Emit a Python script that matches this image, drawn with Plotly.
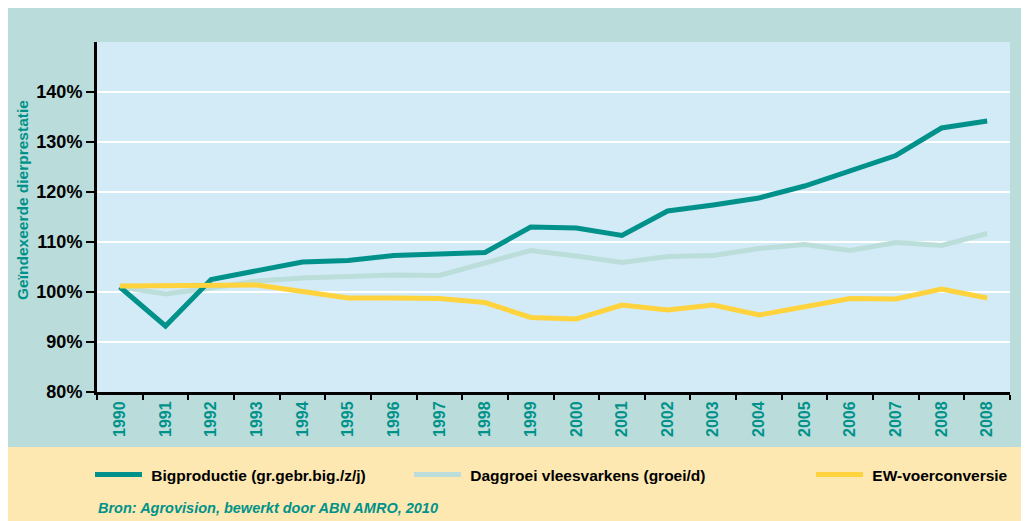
import plotly.graph_objects as go

years = ["1990", "1991", "1992", "1993", "1994", "1995", "1996", "1997", "1998", "1999",
         "2000", "2001", "2002", "2003", "2004", "2005", "2006", "2007", "2008", "2008"]
x_idx = list(range(len(years)))

bigproductie = [101.0, 93.2, 102.5, 104.3, 106.0, 106.3, 107.3, 107.6, 107.9, 113.0,
                112.8, 111.3, 116.2, 117.4, 118.8, 121.2, 124.3, 127.3, 132.8, 134.2]
daggroei = [101.0, 99.6, 100.8, 102.2, 102.8, 103.1, 103.4, 103.3, 105.7, 108.3,
            107.2, 105.9, 107.1, 107.3, 108.7, 109.5, 108.3, 109.9, 109.3, 111.7]
ew_voer = [101.2, 101.2, 101.2, 101.4, 100.1, 98.8, 98.8, 98.7, 97.9, 94.9,
           94.6, 97.4, 96.4, 97.4, 95.4, 97.0, 98.7, 98.6, 100.6, 98.8]

y_ticks = [80, 90, 100, 110, 120, 130, 140]
y_ticktext = [f"{v}%" for v in y_ticks]

names = ["Bigproductie (gr.gebr.big./z/j)", "Daggroei vleesvarkens (groei/d)", "EW-voerconversie"]

C_DARK = "#00928A"
C_LIGHT = "#BCDEDA"
C_YELLOW = "#FFD33D"
C_FRAME = "#BADDDB"
C_PLOT = "#D3EBF7"
C_BOTTOM = "#FDE8B1"

# the page body adds an 8px margin; the figure is sized to fill the rest
OFF = 8
W, H = 1029 - OFF, 521 - OFF
L, R, T, B = 97 - OFF, 19, 42 - OFF, 129
pw, ph = W - L - R, H - T - B


def px_x(p):
    """reference-image pixel x -> paper coordinate"""
    return (p - OFF - L) / pw


def px_y(p):
    """reference-image pixel y -> paper coordinate"""
    return (H - B - (p - OFF)) / ph


FONT = "Liberation Sans"
NB = "\u00a0"

fig = go.Figure()
fig.add_trace(go.Scatter(x=x_idx, y=daggroei, mode="lines", name=NB + names[1],
                         line=dict(color=C_LIGHT, width=5), legend="legend2"))
fig.add_trace(go.Scatter(x=x_idx, y=bigproductie, mode="lines", name=NB + names[0],
                         line=dict(color=C_DARK, width=5), legend="legend"))
fig.add_trace(go.Scatter(x=x_idx, y=ew_voer, mode="lines", name=NB + names[2],
                         line=dict(color=C_YELLOW, width=5), legend="legend3"))

legend_common = dict(
    orientation="h", yanchor="middle", y=px_y(475), xanchor="left",
    bgcolor="rgba(0,0,0,0)", itemwidth=47,
    font=dict(family=FONT, size=15.5, color="black", weight="bold"),
)

fig.update_layout(
    width=W, height=H,
    margin=dict(l=L, r=R, t=T, b=B, pad=0),
    paper_bgcolor=C_FRAME,
    plot_bgcolor=C_PLOT,
    showlegend=True,
    legend=dict(x=px_x(90), **legend_common),
    legend2=dict(x=px_x(409), **legend_common),
    legend3=dict(x=px_x(811), **legend_common),
    xaxis=dict(
        range=[-0.5, len(years) - 0.5],
        tickmode="array", tickvals=x_idx, ticktext=years,
        tickangle=-90, ticks="",
        tickfont=dict(family=FONT, size=16, color=C_DARK, weight="bold"),
        showgrid=False, zeroline=False,
        showline=True, linecolor="black", linewidth=3,
        minor=dict(tickmode="linear", tick0=-0.5, dtick=1, ticks="outside",
                   ticklen=5, tickwidth=1.5, tickcolor="black", showgrid=False),
    ),
    yaxis=dict(
        range=[80, 150],
        tickmode="array", tickvals=y_ticks, ticktext=y_ticktext,
        ticks="outside", ticklen=8, tickwidth=2, tickcolor="black",
        tickfont=dict(family=FONT, size=18, color="black", weight="bold"),
        showgrid=True, gridcolor="white", gridwidth=2,
        zeroline=False,
        showline=True, linecolor="black", linewidth=3,
    ),
    shapes=[
        dict(type="rect", xref="paper", yref="paper", x0=px_x(OFF), x1=px_x(1029),
             y0=px_y(521), y1=px_y(447), fillcolor=C_BOTTOM, line=dict(width=0), layer="below"),
    ],
    annotations=[
        dict(text="Geïndexeerde dierprestatie", xref="paper", yref="paper",
             x=px_x(22), y=px_y(200), textangle=-90, showarrow=False,
             xanchor="center", yanchor="middle",
             font=dict(family=FONT, size=15.5, color=C_DARK, weight="bold")),
        dict(text="<i>Bron: Agrovision, bewerkt door ABN AMRO, 2010</i>", xref="paper", yref="paper",
             x=px_x(96), y=px_y(508), showarrow=False, xanchor="left", yanchor="middle",
             font=dict(family=FONT, size=14.5, color=C_DARK, weight="bold")),
    ],
)

fig.write_html("out.html")
